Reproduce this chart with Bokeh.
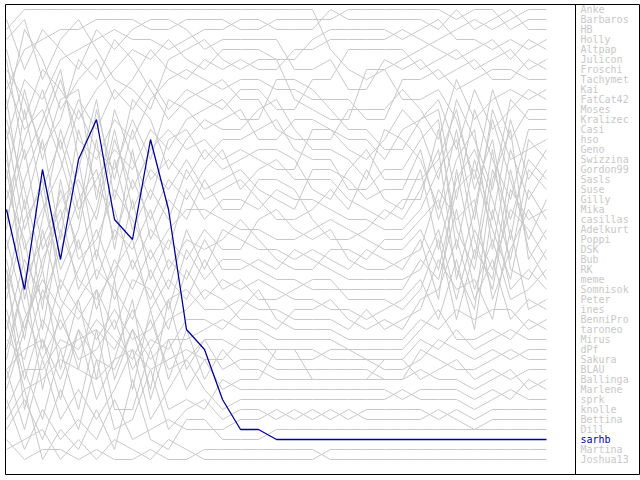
from bokeh.plotting import figure
from bokeh.models import ColumnDataSource, Range1d, Span
from bokeh.embed import file_html
from bokeh.resources import INLINE
from bokeh.core.properties import value

rounds = list(range(31))

anke = [3,1,1,1,1,1,1,1,1,1,1,1,1, 1,1,1,1,1,5,7,8,7,6,5, 4,3,2,3,2,1,1]
barbaros = [9,5,4,3,3,2,2,2,3,3,2,2,2, 3,3,2,2,2,2,1,1,1,1,1, 1,2,1,1,3,2,2]
hb = [14,8,10,6,5,4,3,4,4,5,4,3,3, 2,2,3,3,3,1,2,2,2,2,2, 3,1,3,2,1,3,3]
holly = [5,12,7,9,12,9,7,5,6,4,6,7,5, 5,5,6,6,4,3,3,3,3,4,3, 2,4,4,5,4,5,4]
altpap = [11,3,6,11,8,6,10,8,5,7,8,6,7, 6,7,7,5,5,4,4,4,4,3,4, 5,6,5,4,6,4,5]
julicon = [20,14,9,15,10,13,9,11,8,11,9,10,11, 9,9,11,11,8,8,5,5,5,5,7, 6,5,7,6,5,7,6]
froschi = [2,7,3,5,7,3,5,3,2,2,3,5,4, 4,4,4,7,7,6,9,9,6,7,6, 8,7,6,8,8,6,7]
tachymet = [25,18,13,8,14,16,12,14,10,8,7,8,9, 8,8,9,9,10,10,10,12,12,8,8, 7,9,8,7,7,8,8]
kai = [7,10,15,12,6,8,4,6,9,12,10,9,8, 10,10,13,14,14,14,11,11,11,9,11, 14,8,12,10,9,10,9]
fatcat42 = [30,22,19,14,21,18,15,17,13,15,12,11,10, 12,12,8,8,9,11,13,13,15,15,12, 10,15,9,13,11,9,10]
moses = [4,2,8,4,2,5,8,9,11,6,5,4,6, 7,6,6,10,11,12,12,7,7,10,10, 9,12,18,9,14,11,11]
kralizec = [16,25,21,17,11,15,17,12,16,10,11,13,12, 11,14,14,12,12,13,15,16,14,11,13, 18,10,14,19,10,12,12]
casi = [36,28,24,20,18,22,14,19,15,13,15,14,16, 15,16,17,17,13,13,14,14,16,13,12, 11,20,11,16,20,13,13]
hso = [8,13,11,16,22,11,18,10,12,17,14,12,13, 13,11,10,13,15,15,16,18,13,14,16, 21,13,22,11,16,15,14]
geno = [18,9,16,10,9,20,11,16,20,14,13,16,14, 14,13,12,15,16,16,19,19,17,17,14, 12,25,16,22,12,18,15]
swizzina = [27,33,26,22,17,10,20,13,18,16,18,15,17, 16,15,15,16,19,20,17,15,18,18,18, 16,11,19,14,24,14,16]
gordon99 = [12,19,27,19,25,21,13,21,17,19,16,19,18, 17,19,20,21,17,17,18,20,19,19,15, 22,16,13,25,15,20,17]
sasls = [33,26,30,25,20,17,24,18,22,18,20,17,15, 19,17,16,18,18,18,20,21,22,20,20, 13,23,27,17,22,16,18]
suse = [6,16,12,7,16,26,16,23,19,22,17,20,19, 18,20,22,22,21,19,21,17,20,21,17, 25,18,15,20,26,17,19]
gilly = [23,11,20,27,23,14,25,15,24,20,22,18,21, 21,18,18,19,22,24,24,23,21,22,19, 15,28,21,12,18,24,20]
mika = [10,21,14,24,13,19,21,27,23,25,19,22,20, 20,21,19,20,20,21,22,22,23,23,21, 17,14,24,29,19,22,21]
casillas = [29,20,31,18,26,24,19,22,26,23,21,21,22, 23,23,24,24,23,22,23,24,25,25,23, 27,19,17,23,28,19,22]
adelkurt = [15,30,22,13,19,28,23,25,21,27,24,25,24, 22,24,26,27,27,25,25,26,24,24,22, 20,27,31,18,13,26,23]
poppi = [38,32,28,31,27,23,28,20,28,24,26,23,25, 25,22,21,23,24,23,26,27,27,26,25, 19,22,20,30,25,21,24]
dsk = [13,23,18,29,24,31,26,29,25,29,23,27,23, 24,25,25,26,25,26,27,25,26,27,24, 30,17,26,15,27,28,25]
bub = [22,15,25,21,29,25,30,26,30,26,28,24,27, 27,26,27,25,26,27,28,28,28,28,27, 23,30,23,27,21,23,26]
rk = [34,36,29,33,30,27,29,32,27,31,25,28,26, 26,27,28,28,29,29,29,29,29,29,26, 28,21,29,24,30,29,27]
meme = [19,24,33,23,28,30,27,24,31,28,30,26,29, 28,30,30,29,28,28,30,30,30,31,29, 24,32,25,28,17,25,28]
sonnisok = [26,34,23,30,32,29,33,28,29,33,27,30,28, 29,28,29,30,30,31,31,32,31,30,28, 32,26,33,21,29,27,29]
peter = [17,27,35,28,31,34,31,34,33,30,29,31,31, 30,31,31,32,32,32,33,31,33,32,31, 26,29,28,32,23,31,30]
ines = [31,38,32,35,34,33,35,31,35,32,31,29,30, 32,32,33,31,31,30,32,33,32,33,30, 29,24,30,26,32,30,31]
bennipro = [24,31,36,32,36,35,32,37,34,35,32,32,33, 31,29,32,33,33,33,34,34,34,34,32, 33,31,32,31,31,33,32]
taroneo = [37,35,34,38,33,36,37,33,36,34,34,33,32, 33,33,34,34,34,34,35,35,35,35,33, 31,34,34,33,34,32,33]
mirus = [28,37,37,34,35,32,34,36,32,37,36,34,34, 35,35,35,35,35,36,36,36,36,36,34, 35,33,35,34,33,34,34]
dpf = [32,39,38,36,37,38,36,35,37,36,35,36,36, 34,34,36,36,36,35,35,36,37,37,36, 34,35,36,35,36,35,35]
sakura = [35,28,39,31,37,29,38,33,39,30,37,34,37, 36,36,37,37,37,37,37,37,38,38,35, 36,37,37,36,35,36,36]
blau = [39,33,27,37,30,38,28,39,31,38,33,38,35, 37,37,38,38,38,38,38,38,36,36,38, 37,36,38,37,38,37,37]
ballinga = [27,41,34,40,33,40,36,30,40,34,39,36,39, 38,38,35,35,38,38,38,38,38,38,37, 38,38,39,38,37,39,38]
marlene = [41,37,42,35,41,33,41,41,35,41,40,41,38, 39,39,39,39,39,39,39,39,39,40,39, 39,39,40,39,40,38,39]
sprk = [37,43,36,42,39,42,39,35,42,39,36,39,41, 40,40,40,40,40,40,40,40,40,39,40, 40,40,41,40,39,40,40]
knolle = [43,40,44,39,43,36,43,42,37,43,41,40,42, 41,41,42,41,42,41,42,41,41,41,41, 42,41,42,41,41,41,41]
bettina = [40,45,41,44,42,44,40,44,43,42,43,43,43, 42,42,41,42,41,42,41,42,42,42,42, 41,42,43,42,42,42,42]
dill = [42,39,46,43,45,41,45,38,44,45,42,42,44, 44,44,43,43,43,43,43,43,43,43,43, 43,43,43,43,43,43,43]
sarhb = [21,29,17,26,16,12,22,24,14,21,33,35,40, 43,43,44,44,44,44,44,44,44,44,44, 44,44,44,44,44,44,44]
martina = [45,44,43,46,44,46,44,45,46,44,45,46,46, 46,46,46,46,46,45,45,45,45,45,45, 45,45,45,45,45,45,45]
joshua13 = [44,46,45,45,46,45,46,46,45,46,46,45,45, 45,45,45,45,45,46,46,46,46,46,46, 46,46,46,46,46,46,46]

names = ["Anke", "Barbaros", "HB", "Holly", "Altpap", "Julicon", "Froschi", "Tachymet",
         "Kai", "FatCat42", "Moses", "Kralizec", "Casi", "hso", "Geno", "Swizzina",
         "Gordon99", "Sasls", "Suse", "Gilly", "Mika", "casillas", "Adelkurt", "Poppi",
         "DSK", "Bub", "RK", "meme", "Somnisok", "Peter", "ines", "BenniPro", "taroneo",
         "Mirus", "dPf", "Sakura", "BLAU", "Ballinga", "Marlene", "sprk", "knolle",
         "Bettina", "Dill", "sarhb", "Martina", "Joshua13"]
series = [anke, barbaros, hb, holly, altpap, julicon, froschi, tachymet, kai, fatcat42,
          moses, kralizec, casi, hso, geno, swizzina, gordon99, sasls, suse, gilly, mika,
          casillas, adelkurt, poppi, dsk, bub, rk, meme, sonnisok, peter, ines, bennipro,
          taroneo, mirus, dpf, sakura, blau, ballinga, marlene, sprk, knolle, bettina,
          dill, sarhb, martina, joshua13]
highlight = "sarhb"

GRAY = "#c8c8c8"
BLUE = "#000099"

px = 18.0
x0 = -1.0 / px
W, H = 635, 471
p = figure(width=W, height=H, x_range=Range1d(x0, x0 + W / px),
           y_range=Range1d(47.6, 0.5), output_backend="svg", toolbar_location=None,
           min_border=0, x_axis_location=None, y_axis_location=None)
p.margin = (4, 0, 0, 5)
p.grid.visible = False
p.outline_line_color = "black"
p.outline_line_width = 1
p.background_fill_color = "white"
p.border_fill_color = "white"

gx, gy = [], []
for n, s in zip(names, series):
    if n != highlight:
        gx.append(rounds[:len(s)])
        gy.append(s)
p.multi_line(xs=gx, ys=gy, line_color=GRAY, line_width=1)
hi = series[names.index(highlight)]
p.line(rounds[:len(hi)], hi, line_color=BLUE, line_width=1.3)

sep = x0 + 570 / px
p.add_layout(Span(location=sep, dimension="height", line_color="black", line_width=1))

final_rank = list(range(1, len(names) + 1))
colors = [BLUE if n == highlight else GRAY for n in names]
src = ColumnDataSource(dict(x=[x0 + 575 / px] * len(names), y=final_rank, t=names, c=colors))
p.text(x="x", y="y", text="t", text_color="c", source=src, text_font=value("DejaVu Sans Mono"),
       text_font_size="10px", text_baseline="middle", text_align="left")

open("out.html", "w").write(file_html(p, INLINE))
